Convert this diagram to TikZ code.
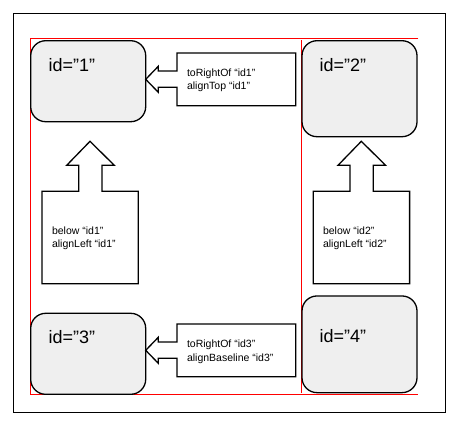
\documentclass[tikz,border=0pt]{standalone}
\usepackage{fontspec}
\setmainfont{Liberation Sans}
\usepackage{tikz}
\usetikzlibrary{arrows,calc}
\usetikzlibrary{positioning}
\definecolor{boxgray}{RGB}{239,239,239}

\begin{document}
\begin{tikzpicture}[x=1pt,y=-1pt,line join=miter,semithick]
 				 \tikzstyle{idbox}=[draw, line width=1.3pt, fill=boxgray, rounded corners=15pt,
 				                    minimum width=115pt, inner sep=0pt]
 				 \tikzstyle{idtext}=[anchor=base west, inner sep=0pt, font=\fontsize{18}{20}\selectfont]
 				 \tikzstyle{note}=[anchor=base west, inner sep=0pt, align=left,
 				                   font=\fontsize{10.5}{13.3}\selectfont]
 				 \tikzstyle{callout}=[draw, line width=1.3pt, fill=white]
 				 \useasboundingbox (0,0) rectangle (454,423);
 				 % frame and guide lines
 				 \draw[line width=1.5pt] (13.3,13.3) rectangle (445.7,412.7);
 				 \draw[red, line width=0.6pt] (418.3,38.3) -- (30.7,38.3) -- (30.7,394.3) -- (418.3,394.3);
 				 \draw[red, line width=0.6pt] (301.7,40) -- (301.7,392.7);
 					 \node[idbox, minimum height=81pt] (b1) at (88.2,81.2) {};
 					 \node[idbox, minimum height=96pt] (b2) at (359.5,88.7) {};
 					 \node[idbox, minimum height=81pt] (b3) at (88.2,353.8) {};
 					 \node[idbox, minimum height=96.7pt] (b4) at (359.5,344.3) {};
 					 \node[idtext] (t1) at (48.3,71) {id=”1”};
 					 \node[idtext] (t2) at (319.3,71) {id=”2”};
 					 \node[idtext] (t3) at (48.3,343) {id=”3”};
 					 \node[idtext] (t4) at (319.3,342.7) {id=”4”};
 				 % arrow callouts
 				 \foreach \dy in {0,271}
 				 	\draw[callout, shift={(0,\dy)}] (177,53) -- (295.7,53) -- (295.7,105.7) -- (177,105.7)
 				 		-- (177,87.3) -- (158.3,87.3) -- (158.3,92.3) -- (145.7,79.3) -- (158.3,66.3)
 				 		-- (158.3,71) -- (177,71) -- cycle;
 				 \foreach \dx in {0,271.3}
 				 	\draw[callout, shift={(\dx,0)}] (42,283.7) -- (138.3,283.7) -- (138.3,191.3) -- (102,191.3)
 				 		-- (102,165.3) -- (114.3,165.3) -- (90,141.3) -- (66.7,165.3) -- (78.7,165.3)
 				 		-- (78.7,191.3) -- (42,191.3) -- cycle;
 				 % base anchor sits on the last line
 					 \node[note] (n1) at (186.7,89.3) {toRightOf “id1”\\alignTop “id1”};
 					 \node[note] (n2) at (51.7,247.6) {below “id1”\\alignLeft “id1”};
 					 \node[note] (n3) at (322.7,247.6) {below “id2”\\alignLeft “id2”};
 					 \node[note] (n4) at (186.7,361) {toRightOf “id3”\\alignBaseline “id3”};
\end{tikzpicture}
\end{document}
